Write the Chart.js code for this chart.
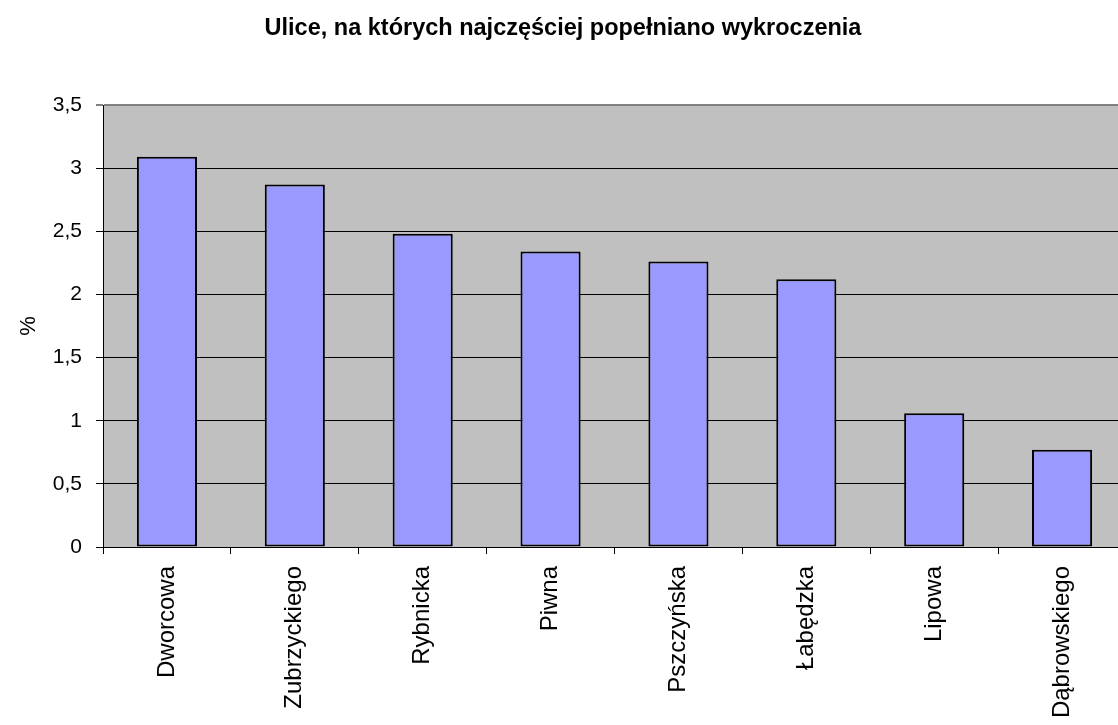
<!DOCTYPE html>
<html>
<head>
<meta charset="utf-8">
<script src="https://cdn.jsdelivr.net/npm/chart.js@4/dist/chart.umd.min.js"></script>
<style>
  html, body { margin: 0; padding: 0; background: #fff; overflow: hidden; }
  #wrap { width: 1118px; height: 725px; overflow: hidden; }
</style>
</head>
<body>
<div id="wrap"><canvas id="barchart" width="1126" height="725"></canvas></div>
<script>
// ulice i procent wykroczeń
const streets = ['Dworcowa', 'Zubrzyckiego', 'Rybnicka', 'Piwna', 'Pszczyńska', 'Łabędzka', 'Lipowa', 'Dąbrowskiego'];
const percents = [3.09, 2.87, 2.48, 2.34, 2.26, 2.12, 1.06, 0.77];
const yTicks = [0, 0.5, 1, 1.5, 2, 2.5, 3, 3.5];

const fontFamily = 'Arial, "Liberation Sans", sans-serif';

// szare tło obszaru wykresu
const plotBackground = {
  id: 'plotBackground',
  beforeDraw(chart) {
    const { ctx, chartArea } = chart;
    ctx.save();
    ctx.fillStyle = '#C0C0C0';
    ctx.fillRect(chartArea.left, chartArea.top, chartArea.right - chartArea.left, chartArea.bottom - chartArea.top);
    ctx.restore();
  }
};

const ctx = document.getElementById('barchart').getContext('2d');
new Chart(ctx, {
  type: 'bar',
  data: {
    labels: streets,
    datasets: [{
      data: percents,
      backgroundColor: '#9999FF',
      borderColor: '#000000',
      borderWidth: 2,
      borderSkipped: false,
      barPercentage: 0.47,
      categoryPercentage: 1
    }]
  },
  options: {
    responsive: false,
    animation: false,
    layout: { padding: 0 },
    plugins: {
      legend: { display: false },
      tooltip: { enabled: false },
      title: {
        display: true,
        text: 'Ulice, na których najczęściej popełniano wykroczenia',
        color: '#000',
        font: { family: fontFamily, size: 23.5, weight: 'bold' },
        padding: { top: 14, bottom: 62.8 }
      }
    },
    scales: {
      x: {
        grid: {
          drawOnChartArea: false,
          color: '#000',
          tickLength: 7,
          offset: true
        },
        border: { color: '#000', width: 1 },
        ticks: {
          color: '#000',
          font: { family: fontFamily, size: 24 },
          minRotation: 90,
          maxRotation: 90,
          padding: 12
        },
        afterFit(scale) { scale.height = 178; }
      },
      y: {
        min: 0,
        max: 3.5,
        afterBuildTicks(scale) { scale.ticks = yTicks.map(v => ({ value: v })); },
        grid: {
          color: c => (c.tick && c.tick.value === 3.5 ? '#808080' : '#000'),
          lineWidth: c => (c.tick && c.tick.value === 3.5 ? 2 : 1),
          tickLength: 7
        },
        border: { color: '#000', width: 1 },
        ticks: {
          color: '#000',
          font: { family: fontFamily, size: 21 },
          padding: 14,
          callback: v => String(v).replace('.', ',')
        },
        title: {
          display: true,
          text: '%',
          color: '#000',
          font: { family: fontFamily, size: 22 },
          padding: { top: 16, bottom: 0 }
        },
        afterFit(scale) { scale.width = 103; }
      }
    }
  },
  plugins: [plotBackground]
});
</script>
</body>
</html>
